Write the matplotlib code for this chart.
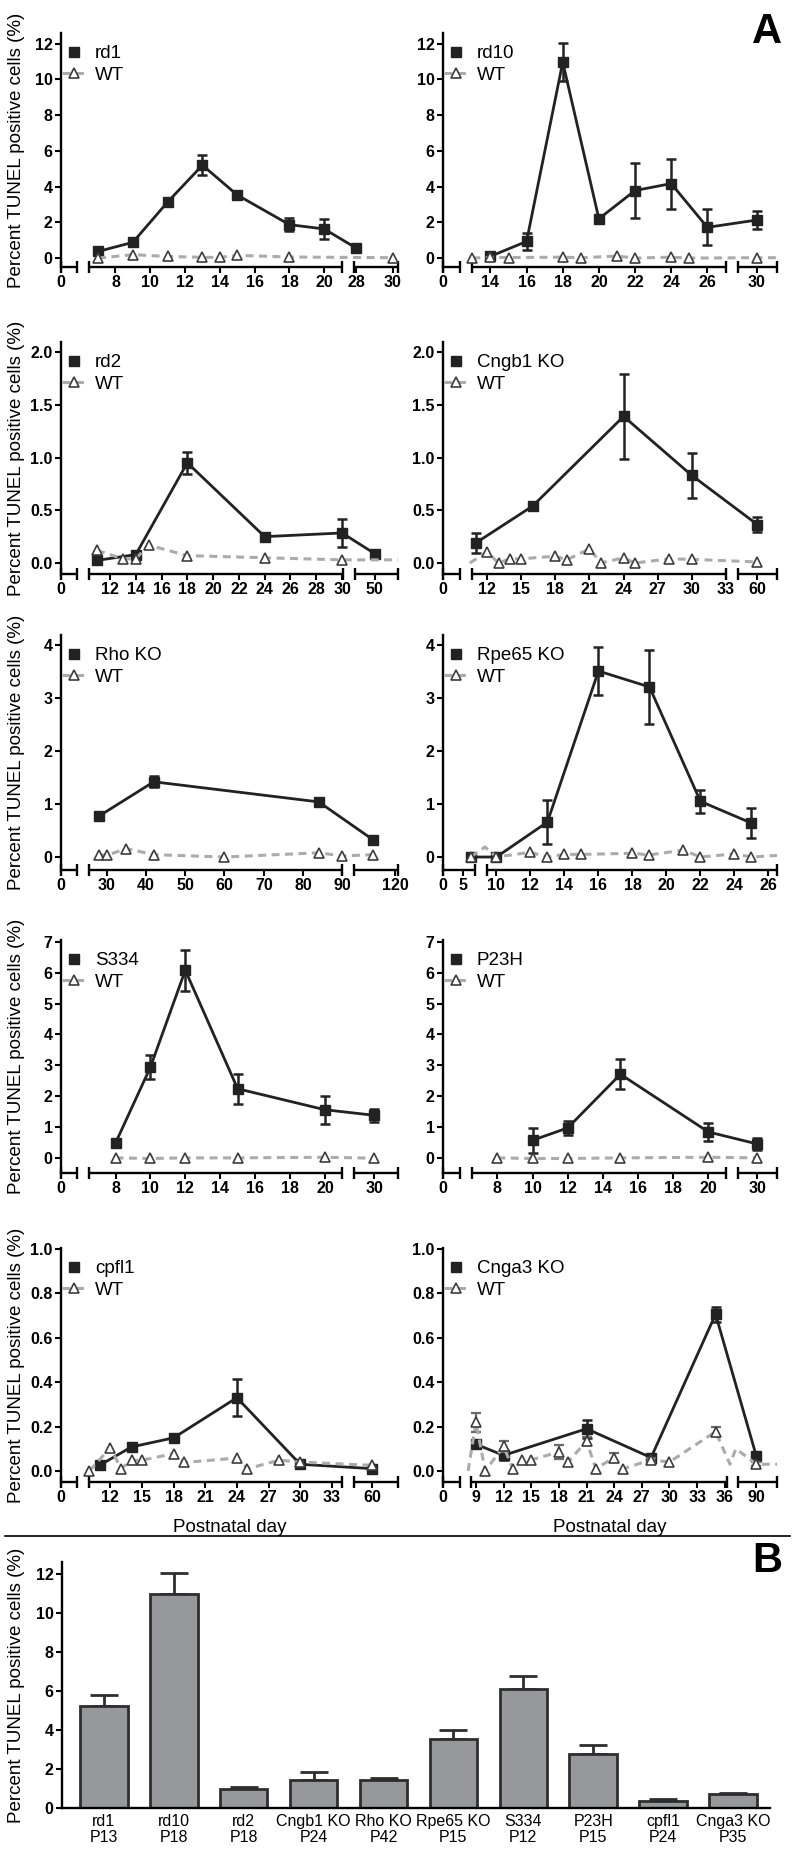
import numpy as np
import matplotlib
matplotlib.use("Agg")
import matplotlib.pyplot as plt
from matplotlib.lines import Line2D

plt.rcParams['font.family'] = ['Liberation Sans', 'DejaVu Sans']

# =========================
# Panel A: TUNEL time courses (postnatal day, mean, SEM)
# =========================
rd1_days = [7, 9, 11, 13, 15, 18, 20, 28]
rd1_mean = [0.37, 0.88, 3.14, 5.20, 3.53, 1.87, 1.63, 0.56]
rd1_sem = [0, 0, 0, 0.55, 0, 0.38, 0.55, 0.22]
rd1_wt_days = [7, 9, 11, 13, 14, 15, 18, 30]
rd1_wt_mean = [0.0, 0.19, 0.09, 0.04, 0.04, 0.15, 0.06, 0.02]

rd10_days = [14, 16, 18, 20, 22, 24, 26, 30]
rd10_mean = [0.10, 0.93, 10.97, 2.20, 3.78, 4.17, 1.72, 2.13]
rd10_sem = [0, 0.50, 1.05, 0, 1.55, 1.40, 1.00, 0.53]
rd10_wt_days = [13, 14, 15, 18, 19, 21, 22, 24, 25, 30, 31.5]
rd10_wt_mean = [0.0, 0.04, 0.03, 0.05, 0.02, 0.11, 0.0, 0.05, 0.0, 0.02, 0.02]

rd2_days = [11, 14, 18, 24, 30, 50]
rd2_mean = [0.025, 0.08, 0.95, 0.25, 0.285, 0.09]
rd2_sem = [0, 0, 0.105, 0, 0.13, 0.02]
rd2_wt_days = [11, 13, 14, 15, 18, 24, 30, 52.5]
rd2_wt_mean = [0.12, 0.04, 0.04, 0.17, 0.07, 0.05, 0.03, 0.03]

cngb1_days = [11, 16, 24, 30, 60]
cngb1_mean = [0.19, 0.54, 1.39, 0.83, 0.365]
cngb1_sem = [0.095, 0.04, 0.40, 0.21, 0.07]
cngb1_wt_days = [8.7, 12, 13, 14, 15, 18, 19, 21, 22, 24, 25, 28, 30, 60]
cngb1_wt_mean = [0.0, 0.105, 0.0, 0.04, 0.04, 0.065, 0.03, 0.135, 0.0, 0.05, 0.0, 0.04, 0.035, 0.01]

rho_days = [28, 42, 84, 116]
rho_mean = [0.77, 1.42, 1.04, 0.32]
rho_sem = [0, 0.1, 0, 0]
rho_wt_days = [28, 30, 35, 42, 60, 84, 90, 116]
rho_wt_mean = [0.045, 0.03, 0.16, 0.045, 0.0, 0.08, 0.02, 0.045]

rpe65_days = [7, 10, 13, 16, 19, 22, 25]
rpe65_mean = [0.0, 0.0, 0.66, 3.51, 3.21, 1.05, 0.64]
rpe65_sem = [0, 0, 0.42, 0.45, 0.70, 0.21, 0.29]
rpe65_wt_days = [7, 9.2, 10, 12, 13, 14, 15, 18, 19, 21, 22, 24, 25, 27]
rpe65_wt_mean = [0.0, 0.19, 0.0, 0.09, 0.0, 0.05, 0.05, 0.07, 0.04, 0.13, 0.0, 0.06, 0.0, 0.03]

s334_days = [8, 10, 12, 15, 20, 30]
s334_mean = [0.48, 2.94, 6.08, 2.24, 1.56, 1.38]
s334_sem = [0, 0.38, 0.67, 0.48, 0.45, 0.21]
s334_wt_days = [8, 10, 12, 15, 20, 30]
s334_wt_mean = [0.0, -0.02, 0.0, 0.0, 0.02, -0.01]

p23h_days = [10, 12, 15, 20, 30]
p23h_mean = [0.57, 0.97, 2.71, 0.84, 0.45]
p23h_sem = [0.41, 0.22, 0.48, 0.29, 0.20]
p23h_wt_days = [8, 10, 12, 15, 20, 30]
p23h_wt_mean = [0.0, -0.02, -0.02, 0.0, 0.02, 0.0]

cpfl1_days = [11, 14, 18, 24, 30, 60]
cpfl1_mean = [0.026, 0.108, 0.149, 0.33, 0.03, 0.01]
cpfl1_sem = [0.015, 0.02, 0, 0.083, 0, 0]
cpfl1_wt_days = [10, 12, 13, 14, 15, 18, 19, 24, 25, 28, 30, 60]
cpfl1_wt_mean = [0.0, 0.105, 0.01, 0.048, 0.048, 0.078, 0.038, 0.058, 0.01, 0.048, 0.04, 0.025]

cnga3_days = [9, 12, 21, 28, 35, 90]
cnga3_mean = [0.12, 0.07, 0.19, 0.06, 0.706, 0.066]
cnga3_sem = [0.01, 0.02, 0.04, 0.01, 0.033, 0.02]
cnga3_wt_days = [6.4, 9, 10, 12, 13, 14, 15, 18, 19, 21, 22, 24, 25, 28, 30, 35, 52, 80, 90, 93]
cnga3_wt_mean = [0.0, 0.22, 0.0, 0.11, 0.01, 0.05, 0.05, 0.085, 0.04, 0.135, 0.01, 0.06, 0.01,
                 0.05, 0.04, 0.177, 0.03, 0.10, 0.03, 0.03]
cnga3_wt_sem = [0, 0.043, 0, 0.025, 0, 0, 0, 0.03, 0, 0.02, 0, 0.02, 0, 0.01, 0, 0.02, 0, 0, 0.01, 0]

# =========================
# Panel B: peak values
# =========================
bar_models = ['rd1', 'rd10', 'rd2', 'Cngb1 KO', 'Rho KO', 'Rpe65 KO', 'S334', 'P23H', 'cpfl1', 'Cnga3 KO']
bar_ages = ['P13', 'P18', 'P18', 'P24', 'P42', 'P15', 'P12', 'P15', 'P24', 'P35']
bar_mean = [5.25, 10.98, 0.98, 1.42, 1.45, 3.55, 6.10, 2.75, 0.35, 0.74]
bar_sem = [0.55, 1.05, 0.10, 0.40, 0.10, 0.44, 0.67, 0.47, 0.10, 0.04]

# axis breaks: (day_lo, day_hi, axes_frac_lo, axes_frac_hi)
L1 = (0, 1, 0.0, 0.0485)
R1 = (0, 1, 0.0, 0.05)
panels = [
    dict(name='rd1', d=rd1_days, m=rd1_mean, e=rd1_sem, wd=rd1_wt_days, wm=rd1_wt_mean, we=None,
         breaks=[L1, (6.5, 21, 0.0841, 0.8328), (27.9, 30.3, 0.8704, 1.0)],
         xticks=[0, 8, 10, 12, 14, 16, 18, 20, 28, 30],
         ylim=(-0.5, 12.6), yticks=[0, 2, 4, 6, 8, 10, 12], yfmt='{:.0f}'),
    dict(name='rd10', d=rd10_days, m=rd10_mean, e=rd10_sem, wd=rd10_wt_days, wm=rd10_wt_mean, we=None,
         breaks=[R1, (13, 27.03, 0.0879, 0.8472), (28.95, 31.1, 0.8821, 1.0)],
         xticks=[0, 14, 16, 18, 20, 22, 24, 26, 30],
         ylim=(-0.5, 12.6), yticks=[0, 2, 4, 6, 8, 10, 12], yfmt='{:.0f}'),
    dict(name='rd2', d=rd2_days, m=rd2_mean, e=rd2_sem, wd=rd2_wt_days, wm=rd2_wt_mean, we=None,
         breaks=[L1, (10.4, 30.1, 0.0841, 0.8378), (48.5, 51.8, 0.8724, 1.0)],
         xticks=[0, 12, 14, 16, 18, 20, 22, 24, 26, 28, 30, 50],
         ylim=(-0.104, 2.095), yticks=[0, 0.5, 1.0, 1.5, 2.0], yfmt='{:.1f}'),
    dict(name='Cngb1 KO', d=cngb1_days, m=cngb1_mean, e=cngb1_sem, wd=cngb1_wt_days, wm=cngb1_wt_mean, we=None,
         breaks=[R1, (10.7, 33, 0.0879, 0.8472), (58.3, 61.7, 0.8821, 1.0)],
         xticks=[0, 12, 15, 18, 21, 24, 27, 30, 33, 60],
         ylim=(-0.104, 2.095), yticks=[0, 0.5, 1.0, 1.5, 2.0], yfmt='{:.1f}'),
    dict(name='Rho KO', d=rho_days, m=rho_mean, e=rho_sem, wd=rho_wt_days, wm=rho_wt_mean, we=None,
         breaks=[L1, (25.6, 90, 0.0841, 0.8348), (112.5, 120.5, 0.8704, 1.0)],
         xticks=[0, 30, 40, 50, 60, 70, 80, 90, 120],
         ylim=(-0.245, 4.19), yticks=[0, 1, 2, 3, 4], yfmt='{:.0f}'),
    dict(name='Rpe65 KO', d=rpe65_days, m=rpe65_mean, e=rpe65_sem, wd=rpe65_wt_days, wm=rpe65_wt_mean, we=None,
         breaks=[(0, 8, 0.0, 0.0949), (9.45, 26.5, 0.1319, 1.0)],
         xticks=[0, 5, 10, 12, 14, 16, 18, 20, 22, 24, 26],
         ylim=(-0.245, 4.19), yticks=[0, 1, 2, 3, 4], yfmt='{:.0f}'),
    dict(name='S334', d=s334_days, m=s334_mean, e=s334_sem, wd=s334_wt_days, wm=s334_wt_mean, we=None,
         breaks=[L1, (6.5, 21, 0.0841, 0.8348), (28.87, 31.37, 0.8704, 1.0)],
         xticks=[0, 8, 10, 12, 14, 16, 18, 20, 30],
         ylim=(-0.49, 7.06), yticks=[0, 1, 2, 3, 4, 5, 6, 7], yfmt='{:.0f}'),
    dict(name='P23H', d=p23h_days, m=p23h_mean, e=p23h_sem, wd=p23h_wt_days, wm=p23h_wt_mean, we=None,
         breaks=[R1, (6.58, 21.0, 0.0879, 0.8472), (28.9, 31.1, 0.8821, 1.0)],
         xticks=[0, 8, 10, 12, 14, 16, 18, 20, 30],
         ylim=(-0.49, 7.06), yticks=[0, 1, 2, 3, 4, 5, 6, 7], yfmt='{:.0f}'),
    dict(name='cpfl1', d=cpfl1_days, m=cpfl1_mean, e=cpfl1_sem, wd=cpfl1_wt_days, wm=cpfl1_wt_mean, we=None,
         breaks=[L1, (10, 34, 0.0841, 0.8348), (58.3, 62.4, 0.8704, 1.0)],
         xticks=[0, 12, 15, 18, 21, 24, 27, 30, 33, 60],
         ylim=(-0.05, 1.0045), yticks=[0, 0.2, 0.4, 0.6, 0.8, 1.0], yfmt='{:.1f}'),
    dict(name='Cnga3 KO', d=cnga3_days, m=cnga3_mean, e=cnga3_sem, wd=cnga3_wt_days, wm=cnga3_wt_mean,
         we=cnga3_wt_sem,
         breaks=[R1, (8.5, 36.2, 0.0849, 0.8492), (88, 92.2, 0.8821, 1.0)],
         xticks=[0, 9, 12, 15, 18, 21, 24, 27, 30, 33, 36, 90],
         ylim=(-0.05, 1.0045), yticks=[0, 0.2, 0.4, 0.6, 0.8, 1.0], yfmt='{:.1f}'),
]

W, H = 793, 1854
fig = plt.figure(figsize=(W / 100, H / 100), dpi=100)

DARK = '#222222'
WT_LINE = '#ababab'
WT_EDGE = '#3c3c3c'
YLABEL = 'Percent TUNEL positive cells (%)'

col_x = [(61, 337), (443, 334)]           # left px, width px
row_y = [(33, 267), (342, 574), (635, 870), (940, 1173), (1248, 1482)]  # top px, bottom px


def px_axes(x0, width, top, bottom):
    return fig.add_axes([x0 / W, 1 - bottom / H, width / W, (bottom - top) / H])


def broken_scale(breaks):
    d = np.array([v for b in breaks for v in b[:2]], float)
    f = np.array([v for b in breaks for v in b[2:]], float)
    return (lambda x: np.interp(x, d, f)), (lambda y: np.interp(y, f, d))


def shown(xs, breaks):
    # Prism hides symbols that fall in an axis gap
    return [i for i, x in enumerate(xs) if any(b[0] <= x <= b[1] for b in breaks)]


for k, p in enumerate(panels):
    row, col = divmod(k, 2)
    x0, wpx = col_x[col]
    top, bot = row_y[row]
    ax = px_axes(x0, wpx, top, bot)

    brk = p['breaks']
    fwd, inv = broken_scale(brk)
    ax.set_xscale('function', functions=(fwd, inv))
    ax.set_xlim(brk[0][0], brk[-1][1])
    ax.set_ylim(*p['ylim'])

    for s in ['top', 'right', 'bottom']:
        ax.spines[s].set_visible(False)
    ax.spines['left'].set_linewidth(1.7)

    # broken x axis segments with end brackets
    xt = ax.get_xaxis_transform()
    for lo, hi, _, _ in brk:
        ax.plot([lo, hi], [0, 0], transform=xt, color='k', lw=1.7,
                clip_on=False, solid_capstyle='butt')
        ax.plot([lo, hi], [0, 0], transform=xt, ls='none', marker='|', ms=8,
                mew=1.7, color='k', clip_on=False)

    ax.set_xticks(p['xticks'], labels=[str(t) for t in p['xticks']], fontweight='bold')
    ax.set_yticks(p['yticks'], labels=[p['yfmt'].format(t) for t in p['yticks']], fontweight='bold')
    ax.tick_params(direction='out', length=4, width=1.5, labelsize=11.5, pad=2)
    ax.minorticks_off()

    # mutant series
    d, m, e = p['d'], p['m'], p['e']
    ei = [i for i in range(len(d)) if e[i] > 0]
    ax.errorbar([d[i] for i in ei], [m[i] for i in ei], yerr=[e[i] for i in ei], fmt='none',
                ecolor=DARK, elinewidth=1.8, capsize=3.8, capthick=1.8, zorder=3)
    ax.plot(d, m, '-', color=DARK, lw=2.0, marker='s', ms=7, markevery=shown(d, brk),
            zorder=4, clip_on=False)

    # wild type series
    wd, wm, we = p['wd'], p['wm'], p['we']
    if we is not None:
        wi = [i for i in range(len(wd)) if we[i] > 0]
        ax.errorbar([wd[i] for i in wi], [wm[i] for i in wi], yerr=[we[i] for i in wi], fmt='none',
                    ecolor='#6a6a6a', elinewidth=1.6, capsize=3.8, capthick=1.6, zorder=5)
    ax.plot(wd, wm, ls=(0, (2.6, 1.8)), color=WT_LINE, lw=2.2, marker='^', ms=7.5, mfc='white',
            mec=WT_EDGE, mew=1.2, markevery=shown(wd, brk), zorder=6)

    h1 = Line2D([], [], ls='none', marker='s', ms=7, color=DARK)
    h2 = Line2D([], [], ls=(0, (2.6, 1.8)), color=WT_LINE, lw=2.2, marker='^', ms=7.5,
                mfc='white', mec=WT_EDGE, mew=1.2)
    ax.legend([h1, h2], [p['name'], 'WT'], loc='upper left',
              bbox_to_anchor=(1 / wpx, 1 - 12 / (bot - top)), frameon=False, fontsize=13.5,
              handlelength=1.3, handletextpad=0.45, labelspacing=0.25, borderpad=0,
              borderaxespad=0, numpoints=1)

    if col == 0:
        ax.set_ylabel(YLABEL, fontsize=13.5)
        ax.yaxis.set_label_coords(-36 / wpx, 0.5)

# x axis titles and separator
for x0, wpx in col_x:
    fig.text((x0 + wpx / 2) / W, 1 - 1527 / H, 'Postnatal day', fontsize=13.5,
             ha='center', va='center')
fig.add_artist(Line2D([5 / W, 790 / W], [1 - 1536 / H, 1 - 1536 / H], color='k', lw=1.2))

fig.text(767 / W, 1 - 32 / H, 'A', fontsize=30, fontweight='bold', ha='center', va='center')
fig.text(767 / W, 1 - 1561 / H, 'B', fontsize=30, fontweight='bold', ha='center', va='center')

# =========================
# Panel B bar chart
# =========================
axb = px_axes(62, 708, 1562, 1808)
xb = np.arange(len(bar_models))
axb.errorbar(xb, bar_mean, yerr=[np.zeros(len(xb)), bar_sem], fmt='none', ecolor='#2e2e2e',
             elinewidth=2.0, capsize=10, capthick=2.0, zorder=1)
axb.bar(xb, bar_mean, width=0.68, color='#96989b', edgecolor='#2e2e2e', linewidth=2.0, zorder=2)
axb.set_xlim(-0.6, 9.53)
axb.set_ylim(0, 12.6)
for s in ['top', 'right']:
    axb.spines[s].set_visible(False)
for s in ['left', 'bottom']:
    axb.spines[s].set_linewidth(1.7)
axb.set_yticks([0, 2, 4, 6, 8, 10, 12], labels=['0', '2', '4', '6', '8', '10', '12'],
               fontweight='bold')
axb.set_xticks(xb, labels=[f'{a}\n{b}' for a, b in zip(bar_models, bar_ages)], fontsize=11.5,
               linespacing=1.1)
axb.tick_params(axis='y', direction='out', length=4, width=1.5, labelsize=11.5, pad=2)
axb.tick_params(axis='x', length=0, pad=4)
axb.set_ylabel(YLABEL, fontsize=13.5)
axb.yaxis.set_label_coords(-37 / 708, 0.5)

fig.savefig('out.png', dpi=100)
